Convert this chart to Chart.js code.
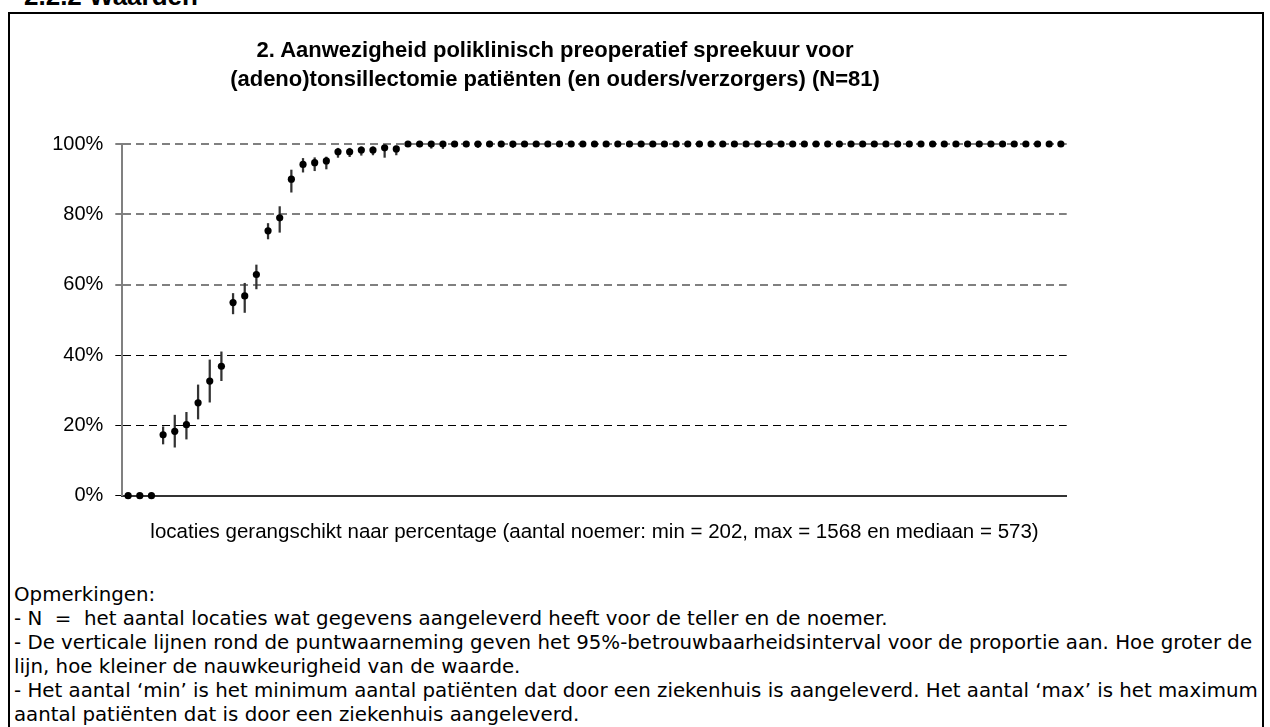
<!DOCTYPE html>
<html>
<head>
<meta charset="utf-8">
<script src="https://cdn.jsdelivr.net/npm/chart.js@4.4.1/dist/chart.umd.min.js"></script>
<style>
  html, body { margin: 0; padding: 0; background: #fff; }
  body { width: 1270px; height: 727px; position: relative; overflow: hidden; }
  #head { position: absolute; left: 24px; top: -19px; font: bold 26px "Liberation Sans", Arial, sans-serif; color: #000; white-space: nowrap; }
  #box { position: absolute; left: 8px; top: 12px; width: 1256px; height: 760px; border: 2px solid #000; box-sizing: border-box; }
  #title { position: absolute; left: 155px; width: 800px; top: 35px; text-align: center; font: bold 22px "Liberation Sans", Arial, sans-serif; line-height: 29px; color: #000; white-space: nowrap; }
  #wrap { position: absolute; left: 0; top: 0; width: 1270px; height: 560px; }
  #notes { position: absolute; left: 14px; top: 583px; font: 19.8px "DejaVu Sans", Verdana, sans-serif; line-height: 24px; color: #000; white-space: nowrap; }
</style>
</head>
<body>
<div id="head">2.2.2 Waarden</div>
<div id="box"></div>
<div id="wrap"><canvas id="c"></canvas></div>
<div id="title">2. Aanwezigheid poliklinisch preoperatief spreekuur voor<br>(adeno)tonsillectomie patiënten (en ouders/verzorgers) (N=81)</div>
<div id="notes">
<div>Opmerkingen:</div>
<div>- N &nbsp;= &nbsp;het aantal locaties wat gegevens aangeleverd heeft voor de teller en de noemer.</div>
<div>- De verticale lijnen rond de puntwaarneming geven het 95%-betrouwbaarheidsinterval voor de proportie aan. Hoe groter de</div>
<div>lijn, hoe kleiner de nauwkeurigheid van de waarde.</div>
<div>- Het aantal ‘min’ is het minimum aantal patiënten dat door een ziekenhuis is aangeleverd. Het aantal ‘max’ is het maximum</div>
<div>aantal patiënten dat is door een ziekenhuis aangeleverd.</div>
</div>
<script>
// Percentage per location (ranked), 81 locations
const percentages = [
  0, 0, 0, 17.3, 18.3, 20.2, 26.4, 32.6, 36.8, 54.9,
  56.8, 62.9, 75.3, 79.0, 90.0, 94.2, 94.7, 95.2, 97.8, 97.8,
  98.3, 98.3, 98.9, 98.6, 100, 100, 100, 100, 100, 100,
  100, 100, 100, 100, 100, 100, 100, 100, 100, 100,
  100, 100, 100, 100, 100, 100, 100, 100, 100, 100,
  100, 100, 100, 100, 100, 100, 100, 100, 100, 100,
  100, 100, 100, 100, 100, 100, 100, 100, 100, 100,
  100, 100, 100, 100, 100, 100, 100, 100, 100, 100,
  100
];
// 95% confidence interval lower bounds
const ciLower = [
  0, 0, 0, 14.7, 13.8, 16.1, 21.8, 26.6, 32.7, 51.7,
  52.1, 58.8, 73.0, 74.9, 86.3, 92.0, 92.4, 92.9, 96.2, 96.4,
  96.8, 96.9, 96.2, 96.9, 99.3, 99.2, 98.8, 98.7, 99.2, 99.2,
  99.0, 99.2, 99.2, 99.0, 99.3, 99.3, 99.4, 99.4, 99.3, 99.4,
  99.5, 99.4, 99.5, 99.5, 99.6, 99.5, 99.6, 99.6, 99.3, 99.6,
  99.3, 99.3, 99.7, 99.3, 99.7, 99.7, 99.8, 99.8, 99.8, 99.8,
  99.8, 99.8, 99.8, 99.8, 99.8, 99.8, 99.8, 99.8, 99.9, 99.9,
  99.9, 99.9, 99.9, 99.9, 99.9, 99.9, 99.9, 99.9, 99.9, 99.9,
  99.9
];
// 95% confidence interval upper bounds
const ciUpper = [
  0, 0, 0, 19.6, 22.9, 23.7, 31.5, 38.6, 40.9, 57.5,
  60.4, 65.6, 77.4, 82.2, 92.6, 95.9, 96.1, 96.3, 98.8, 98.8,
  99.2, 99.2, 99.5, 99.4, 100, 100, 100, 100, 100, 100,
  100, 100, 100, 100, 100, 100, 100, 100, 100, 100,
  100, 100, 100, 100, 100, 100, 100, 100, 100, 100,
  100, 100, 100, 100, 100, 100, 100, 100, 100, 100,
  100, 100, 100, 100, 100, 100, 100, 100, 100, 100,
  100, 100, 100, 100, 100, 100, 100, 100, 100, 100,
  100
];
const locationLabels = percentages.map((_, i) => 'Locatie ' + (i + 1));
const yTicks = [0, 20, 40, 60, 80, 100];
const xAxisTitle = 'locaties gerangschikt naar percentage (aantal noemer: min = 202, max = 1568 en mediaan = 573)';

const intervals = ciLower.map((lo, i) => [lo, ciUpper[i]]);

const FONT = '"Liberation Sans", Arial, sans-serif';

new Chart(document.getElementById('c'), {
  type: 'bar',
  data: {
    labels: locationLabels,
    datasets: [
      {
        type: 'line',
        label: 'Percentage',
        data: percentages,
        showLine: false,
        pointRadius: 3.6,
        pointHoverRadius: 3.6,
        pointBackgroundColor: '#000',
        pointBorderColor: '#000',
        pointBorderWidth: 0,
        clip: false,
        order: 0
      },
      {
        type: 'bar',
        label: '95%-betrouwbaarheidsinterval',
        data: intervals,
        backgroundColor: '#333',
        borderWidth: 0,
        barThickness: 1.6,
        clip: false,
        order: 1
      }
    ]
  },
  options: {
    responsive: true,
    maintainAspectRatio: false,
    animation: false,
    devicePixelRatio: 1,
    layout: { padding: { top: 144, right: 203.3, bottom: 0, left: 0 } },
    plugins: {
      legend: { display: false },
      tooltip: { enabled: false },
      title: { display: false }
    },
    scales: {
      x: {
        type: 'category',
        offset: true,
        grid: { display: false },
        border: { display: true, color: '#333', width: 2 },
        ticks: { display: false },
        title: {
          display: true,
          text: xAxisTitle,
          color: '#000',
          font: { family: FONT, size: 20.5 },
          padding: { top: 0, bottom: 15 }
        },
        afterFit: (s) => { s.height = 64.3; }
      },
      y: {
        min: 0,
        max: 100,
        afterBuildTicks: (s) => { s.ticks = yTicks.map(v => ({ value: v })); },
        ticks: {
          callback: (v) => v + '%',
          color: '#000',
          padding: 12,
          font: { family: FONT, size: 20 }
        },
        grid: {
          display: true,
          drawTicks: true,
          tickLength: 7,
          color: (ctx) => (ctx.tick && ctx.tick.value >= 60 ? '#808080' : '#000'),
          lineWidth: (ctx) => (ctx.tick && ctx.tick.value >= 60 ? 2 : 1),
          tickColor: (ctx) => (ctx.tick && ctx.tick.value >= 60 ? '#808080' : '#000'),
          tickWidth: (ctx) => (ctx.tick && ctx.tick.value >= 60 ? 2 : 1),
          tickBorderDash: []
        },
        border: { display: true, color: '#808080', width: 2, dash: [8, 5] },
        afterFit: (s) => { s.width = 122.3; }
      }
    }
  }
});
</script>
</body>
</html>
